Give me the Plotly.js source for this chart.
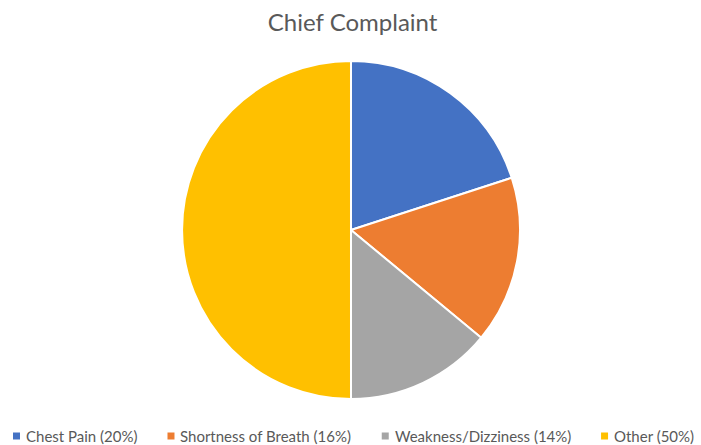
<!DOCTYPE html>
<html>
<head>
<meta charset="utf-8">
<script src="https://cdn.plot.ly/plotly-3.0.1.min.js"></script>
<style>html,body{margin:0;padding:0;background:#fff;}#chart{width:701px;height:445px;}</style>
</head>
<body>
<div id="chart"></div>
<script>
var categories = ["Chest Pain (20%)", "Shortness of Breath (16%)", "Weakness/Dizziness (14%)", "Other (50%)"];
var values = [20, 16, 14, 50];
var colors = ["#4472C4", "#ED7D31", "#A5A5A5", "#FFC000"];

var W = 701, H = 445;
var legendFont = "Lato, 'Open Sans', sans-serif";
var legendSize = 15;

var data = [{
  type: "pie",
  labels: categories,
  values: values,
  sort: false,
  direction: "clockwise",
  rotation: 0,
  textinfo: "none",
  hoverinfo: "label+value",
  marker: {colors: colors, line: {color: "#ffffff", width: 2}},
  domain: {x: [0.2596, 0.7418], y: [0.1034, 0.8629]},
  showlegend: false
}];

// custom bottom legend, laid out from measured text widths
var cv = document.createElement("canvas").getContext("2d");
cv.font = legendSize + "px Lato";
var sq = 7, sqGap = 4, itemGap = 32;
var widths = categories.map(function (c) { return cv.measureText(c).width; });
var x = 13;
var legY = 436;
var shapes = [], annotations = [];
categories.forEach(function (c, i) {
  shapes.push({type: "rect", xref: "paper", yref: "paper",
    x0: x / W, x1: (x + sq) / W, y0: (H - legY - sq / 2) / H, y1: (H - legY + sq / 2) / H,
    fillcolor: colors[i], line: {width: 0}});
  annotations.push({xref: "paper", yref: "paper", x: (x + sq + sqGap) / W, y: (H - legY) / H,
    xanchor: "left", yanchor: "middle", showarrow: false, text: c,
    font: {family: legendFont, size: legendSize, color: "#595959"}});
  x += sq + sqGap + widths[i] + itemGap;
});

var layout = {
  width: W, height: H,
  margin: {l: 0, r: 0, t: 0, b: 0},
  paper_bgcolor: "#ffffff",
  title: {text: "Chief Complaint", x: 0.503, xanchor: "center", y: 0.95, yanchor: "middle",
          font: {family: "Lato, 'Open Sans', sans-serif", size: 24, color: "#595959"}},
  showlegend: false,
  shapes: shapes,
  annotations: annotations
};

Plotly.newPlot("chart", data, layout, {displayModeBar: false});
</script>
</body>
</html>
